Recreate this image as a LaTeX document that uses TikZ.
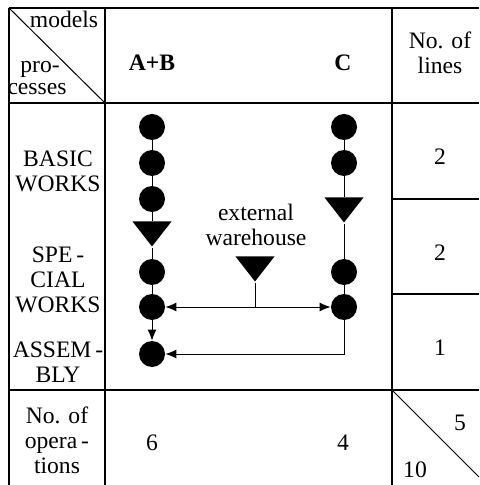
\documentclass[tikz,border=0pt]{standalone}
\usepackage{fontspec}
\setmainfont{Liberation Serif}
\usetikzlibrary{shapes.geometric,arrows.meta,positioning,calc}

\tikzset{
  op/.style={circle,fill=black,minimum size=13pt,inner sep=0pt},
  store/.style={isosceles triangle,isosceles triangle stretches,shape border rotate=270,
    fill=black,minimum width=19.5pt,minimum height=12.5pt,inner sep=0pt},
  flow/.style={line width=0.5pt},
  grid/.style={line width=0.7pt},
  lbl/.style={align=center,inner sep=0pt,font=\fontsize{11.8}{12.5}\selectfont},
  bold/.style={lbl,font=\fontsize{11.8}{12.5}\selectfont\bfseries},
}

\begin{document}
\begin{tikzpicture}[x=0.5pt,y=-0.5pt,>={Latex[length=5.5pt,width=4.5pt]}]
    \useasboundingbox (0,0) rectangle (479,485);
    % table
    \draw[grid] (9,8) -- (479,8);
    \draw[grid] (9,8) -- (9,485);
    \draw[grid] (105,8) -- (105,485);
    \draw[grid] (392,8) -- (392,485);
    \draw[grid] (9,103) -- (479,103);
    \draw[grid] (9,390) -- (479,390);
    \draw[grid] (392,199) -- (479,199);
    \draw[grid] (392,294) -- (479,294);
    \draw[flow] (9,8) -- (105,103);
    \draw[flow] (392,390) -- (479,477);

    % header
    \node[lbl] (models) at (64,19) {models};
    \node[lbl] (pro) at (40,69) {pro-};
    \node[lbl] (cesses) at (37,89) {cesses};
    \node[bold] (ab) at (152,63) {A+B};
    \node[bold] (cc) at (343,63) {C};
    \node[lbl] (nlines) at (440,53) {No. of\\lines};

    % processes
    \node[lbl] (basic) at (58,171) {BASIC\\WORKS};
    \node[lbl] (special) at (58,280) {SPE\,-\\CIAL\\WORKS};
    \node[lbl] (assembly) at (58,362) {ASSEM\,-\\BLY};
    \node[lbl] (l1) at (440,157) {2};
    \node[lbl] (l2) at (440,253) {2};
    \node[lbl] (l3) at (440,348) {1};

    % bottom row
    \node[lbl] (nops) at (57,440) {No. of\\opera\,-\\tions};
    \node[lbl] (n1) at (152,443) {6};
    \node[lbl] (n2) at (343,443) {4};
    \node[lbl] (n3) at (460,423) {5};
    \node[lbl] (n4) at (415,470) {10};

    % A+B
    \node[op] (a1) at (152,127) {};
    \node[op] (a2) at (152,163) {};
    \node[op] (a3) at (152,199) {};
    \node[store] (t1) at (152,231) {};
    \node[op] (a4) at (152,272) {};
    \node[op] (a5) at (152,307) {};
    \node[op] (a6) at (152,354) {};
    \draw[flow] (a1) -- (a2) -- (a3) -- (t1) -- (a4) -- (a5);
    \draw[flow,->] (a5) -- (a6);

    % C
    \node[op] (c1) at (344,127) {};
    \node[op] (c2) at (344,163) {};
    \node[store] (t2) at (344,207) {};
    \node[op] (c3) at (344,272) {};
    \node[op] (c4) at (344,307) {};
    \draw[flow] (c1) -- (c2) -- (t2) -- (c3) -- (c4);
    \draw[flow,->] (c4) -- (c4 |- a6) -- (a6);

    % external warehouse
    \node[store] (tw) at (255,266) {};
    \node[lbl] (ext) at (256,225) {external\\warehouse};
    \coordinate (join) at (tw |- a5);
    \draw[flow] (tw) -- (join);
    \draw[flow,<->] (a5) -- (c4);
\end{tikzpicture}
\end{document}
